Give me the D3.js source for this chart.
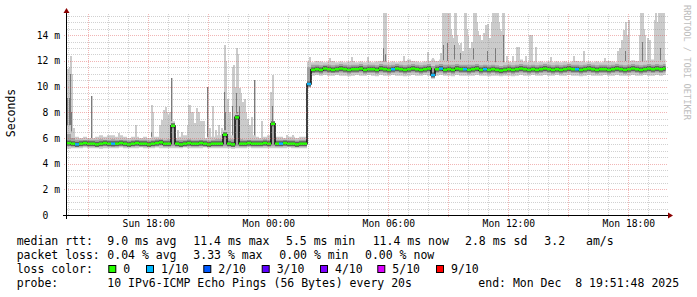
<!DOCTYPE html>
<html><head><meta charset="utf-8">
<script src="https://cdn.jsdelivr.net/npm/d3@7"></script>
<style>
html,body{margin:0;padding:0;background:#fff;}
svg{display:block;}
text{font-family:"DejaVu Sans Mono",monospace;fill:#000;}
</style></head><body>
<svg id="c" width="697" height="297"></svg>
<script>
// ---------------- DATA ----------------
const stepMinutes = 12;
const startTime = "2025-12-07 13:56";
const endTime = "2025-12-08 19:56";
const lastUpdate = "2025-12-08 19:51:48";
const yMax = 15.65;

// median rtt per 12-minute step (ms)
const median = [
5.6,5.55,5.5,5.55,5.6,5.55,5.55,5.5,5.55,5.6,
5.55,5.55,5.55,5.6,5.55,5.5,5.55,5.6,5.55,5.55,
5.5,5.55,5.6,5.65,5.55,5.55,6.95,5.55,5.5,5.55,
5.6,5.55,5.55,5.6,5.55,5.5,5.55,5.55,5.55,6.25,
5.55,5.5,7.6,5.55,5.55,5.6,5.55,5.55,5.55,5.6,
5.55,7.1,5.55,5.55,5.6,5.55,5.55,5.5,5.55,5.55,
10.2,11.3,11.35,11.3,11.4,11.35,11.3,11.35,11.4,11.35,
11.3,11.35,11.35,11.4,11.3,11.35,11.35,11.3,11.4,11.35,
11.3,11.35,11.4,11.35,11.3,11.35,11.4,11.35,11.3,11.35,
11.4,10.9,11.35,11.4,11.3,11.35,11.3,11.4,11.35,11.35,
11.3,11.35,11.4,11.3,11.35,11.3,11.35,11.3,11.25,11.3,
11.35,11.3,11.35,11.4,11.35,11.3,11.35,11.3,11.35,11.4,
11.35,11.3,11.35,11.3,11.35,11.4,11.35,11.35,11.3,11.35,
11.4,11.35,11.3,11.35,11.35,11.3,11.35,11.4,11.35,11.3,
11.35,11.4,11.35,11.3,11.35,11.4,11.35,11.4,11.35,11.4];

// lost pings (of 10) per step
const loss = [
0,0,1,0,0,0,0,0,0,0,
0,1,0,0,0,0,0,0,0,0,
0,0,0,0,0,0,0,0,0,0,
0,0,0,0,0,0,0,0,0,0,
0,0,0,0,0,0,0,0,0,0,
0,0,0,1,0,0,0,0,0,0,
1,0,0,0,0,0,0,0,0,0,
0,0,0,0,0,0,0,0,0,0,
0,1,0,0,0,0,0,0,0,0,
0,1,0,1,0,0,0,0,0,1,
0,0,0,0,1,0,0,0,0,0,
0,0,0,0,0,0,0,0,0,0,
0,0,0,0,0,0,0,1,0,0,
0,0,0,0,0,0,0,0,0,0,
0,0,0,0,0,0,0,0,0,0];

// smoke: outer top
const smokeHi = [
7.0,6.5,6.1,6.0,6.1,6.0,6.0,6.1,6.2,6.1,
6.2,6.2,6.1,6.2,6.1,6.0,6.1,6.1,6.0,6.1,
6.0,6.1,6.1,6.2,6.1,6.3,7.3,6.0,6.1,6.2,
6.1,6.2,6.1,6.1,6.0,6.1,6.1,6.2,6.2,6.6,
6.3,6.2,7.9,6.3,6.2,6.1,6.2,6.1,6.0,6.1,
6.2,7.3,6.1,6.1,6.0,6.1,6.1,6.0,6.1,6.1,
11.95,11.9,12.0,11.95,11.9,11.95,12.0,11.9,11.95,11.9,
11.95,12.0,11.9,11.95,11.9,11.95,11.9,11.95,12.0,11.95,
11.9,11.95,11.9,11.95,12.0,12.1,12.0,11.95,11.9,11.95,
12.0,12.1,12.0,12.1,12.05,12.0,12.1,12.0,12.1,12.0,
12.05,12.1,12.0,12.1,11.95,12.0,11.95,11.9,11.95,11.9,
11.95,11.9,12.0,12.1,11.95,11.9,11.95,11.9,11.95,11.9,
11.95,11.9,11.95,11.9,11.95,11.9,11.95,12.0,11.95,11.9,
11.95,11.9,11.95,11.9,11.95,12.0,11.95,11.9,11.95,12.0,
12.0,12.05,12.0,11.95,12.05,12.0,12.1,12.0,12.05,12.1];

// smoke: inner top
const smokeHi2 = [
6.3,6.0,5.85,5.85,5.8,5.85,5.85,5.85,5.9,5.85,
5.85,5.9,5.85,5.85,5.85,5.8,5.85,5.85,5.85,5.85,
5.8,5.85,5.9,5.9,5.85,5.9,7.0,5.85,5.85,5.85,
5.9,5.85,5.85,5.85,5.85,5.8,5.85,5.9,5.9,6.3,
5.9,5.9,7.7,5.9,5.85,5.85,5.85,5.85,5.85,5.9,
5.85,7.2,5.85,5.85,5.85,5.85,5.85,5.8,5.85,5.85,
11.5,11.7,11.7,11.65,11.7,11.7,11.65,11.7,11.75,11.7,
11.65,11.7,11.7,11.75,11.65,11.7,11.7,11.65,11.75,11.7,
11.65,11.7,11.75,11.7,11.65,11.7,11.75,11.7,11.65,11.7,
11.75,11.6,11.7,11.75,11.7,11.7,11.7,11.75,11.7,11.7,
11.7,11.7,11.75,11.65,11.7,11.65,11.7,11.65,11.6,11.65,
11.7,11.65,11.7,11.75,11.7,11.65,11.7,11.65,11.7,11.75,
11.7,11.65,11.7,11.65,11.7,11.75,11.7,11.7,11.65,11.7,
11.75,11.7,11.65,11.7,11.7,11.65,11.7,11.75,11.7,11.65,
11.7,11.75,11.7,11.65,11.7,11.75,11.7,11.75,11.7,11.75];

// smoke: inner bottom
const smokeLo2 = [
5.35,5.35,5.3,5.35,5.35,5.35,5.35,5.3,5.35,5.35,
5.35,5.3,5.35,5.35,5.35,5.3,5.35,5.35,5.35,5.35,
5.3,5.35,5.35,5.4,5.35,5.35,5.35,5.35,5.3,5.35,
5.35,5.35,5.35,5.35,5.35,5.3,5.35,5.35,5.35,5.35,
5.35,5.3,5.35,5.35,5.35,5.35,5.35,5.35,5.35,5.35,
5.35,5.35,5.35,5.35,5.35,5.35,5.35,5.3,5.35,5.35,
10.0,11.05,11.05,11.0,11.1,11.05,11.05,11.05,11.1,11.05,
11.0,11.05,11.05,11.1,11.0,11.05,11.05,11.0,11.1,11.05,
11.0,11.05,11.1,11.05,11.0,11.05,11.1,11.05,11.0,11.05,
11.1,10.75,11.05,11.1,11.0,11.05,11.0,11.1,11.05,11.05,
11.0,11.05,11.1,11.0,11.05,11.0,11.05,11.0,10.95,11.0,
11.05,11.0,11.05,11.1,11.05,11.0,11.05,11.0,11.05,11.1,
11.05,11.0,11.05,11.0,11.05,11.1,11.05,11.05,11.0,11.05,
11.1,11.05,11.0,11.05,11.05,11.0,11.05,11.1,11.05,11.0,
11.05,11.1,11.05,11.0,11.05,11.1,11.05,11.1,11.05,11.1];

// smoke: outer bottom
const smokeLo = [
5.15,5.2,5.2,5.2,5.25,5.2,5.2,5.2,5.15,5.2,
5.2,5.2,5.2,5.25,5.2,5.2,5.2,5.2,5.25,5.2,
5.2,5.2,5.25,5.2,5.2,5.2,5.2,5.2,5.2,5.25,
5.2,5.2,5.2,5.2,5.25,5.2,5.2,5.2,5.2,5.2,
5.2,5.15,5.2,5.2,5.2,5.25,5.2,5.2,5.2,5.2,
5.2,5.2,5.2,5.2,5.2,5.25,5.2,5.2,5.2,5.2,
9.9,10.85,10.9,10.85,10.9,10.85,10.85,10.9,10.85,10.85,
10.8,10.85,10.9,10.85,10.85,10.9,10.85,10.8,10.9,10.85,
10.85,10.9,10.85,10.85,10.8,10.85,10.9,10.85,10.85,10.9,
10.85,10.6,10.85,10.9,10.85,10.85,10.8,10.9,10.85,10.85,
10.85,10.85,10.9,10.85,10.85,10.8,10.85,10.85,10.8,10.85,
10.85,10.8,10.85,10.9,10.85,10.85,10.9,10.85,10.85,10.9,
10.85,10.85,10.9,10.85,10.85,10.9,10.85,10.85,10.8,10.85,
10.9,10.85,10.85,10.85,10.9,10.85,10.85,10.9,10.85,10.85,
10.85,10.9,10.85,10.85,10.9,10.85,10.85,10.9,10.85,10.9];

// individual outlier pings (max ping and upper-quartile ping)
const spikeTimes = [
"07 13:59","07 14:05","07 14:08","07 14:11","07 14:17","07 15:11","07 16:32","07 17:23","07 18:11","07 18:47",
"07 18:53","07 18:59","07 19:05","07 19:11","07 19:29","07 19:41","07 20:02","07 20:05","07 20:14","07 20:26",
"07 20:38","07 20:47","07 20:59","07 21:14","07 21:41","07 21:50","07 21:53","07 22:14","07 22:17","07 22:26",
"07 22:29","07 22:35","07 22:44","07 22:50","07 22:59","07 23:11","07 23:20","07 23:41","08 00:08","08 00:14",
"08 00:56","08 01:14",
"08 02:05","08 03:05","08 04:11","08 04:59","08 05:47","08 05:53","08 06:47","08 07:59","08 08:14","08 08:38",
"08 08:47","08 08:53","08 08:59","08 09:05","08 09:11","08 09:20","08 09:29","08 09:38","08 09:44","08 09:50",
"08 09:59","08 10:05","08 10:17","08 10:23","08 10:29","08 10:35","08 10:41","08 10:53","08 10:59","08 11:17",
"08 11:23","08 11:29","08 11:38","08 11:47","08 11:56","08 12:14","08 12:26","08 12:32","08 12:53","08 13:05",
"08 13:11","08 13:23","08 14:08","08 15:17","08 15:47","08 16:50","08 17:29","08 17:41","08 17:47","08 17:53",
"08 18:02","08 18:38","08 18:44","08 18:50","08 18:59","08 19:05","08 19:20","08 19:23","08 19:32","08 19:38",
"08 19:44","08 19:47",
"07 18:14","07 18:35","07 18:41","07 18:50","07 18:56","07 19:02","07 19:59","07 20:08","07 20:20","07 20:32",
"07 20:41","07 20:44","07 21:05","07 21:23","07 21:32","07 21:59","07 22:05","07 22:20","07 22:38","07 22:53",
"07 23:05",
"08 08:44","08 08:56","08 09:02","08 09:08","08 09:14","08 09:23","08 09:26","08 09:35","08 09:53","08 09:56",
"08 10:11","08 10:20","08 10:26","08 10:32","08 10:47","08 10:56","08 11:05","08 11:11","08 11:14","08 11:20",
"08 11:26","08 11:32","08 11:35","08 11:41","08 11:44",
"08 17:35","08 17:56","08 18:35","08 18:41","08 18:47","08 19:26","08 19:35","08 19:41"];
const spikeHi = [
11.4,11.5,12.4,11.0,6.8,9.3,6.4,7.0,8.6,8.2,
8.4,7.8,8.0,10.7,6.6,6.5,8.6,8.6,8.0,8.3,
7.3,7.3,10.0,8.5,6.8,13.2,12.0,11.5,11.7,13.0,
12.5,9.9,8.8,9.0,7.5,7.6,10.5,7.3,9.6,10.9,
6.2,6.2,
12.3,12.2,12.3,12.3,15.7,15.7,12.4,12.7,12.2,12.6,
15.7,15.7,15.7,15.7,14.0,15.7,13.4,13.4,12.8,15.7,
13.9,13.0,15.7,15.7,14.3,14.0,13.6,14.8,14.9,15.7,
15.7,15.7,14.3,15.7,12.4,12.4,13.1,13.1,12.4,14.0,
14.0,13.1,12.3,12.4,12.8,12.2,12.8,13.6,14.4,15.0,
15.2,15.7,15.7,14.0,13.8,13.6,15.2,15.7,15.7,15.7,
14.9,15.7,
8.0,7.0,7.4,8.0,8.0,7.6,7.0,8.0,7.2,8.0,
7.0,7.3,6.8,6.6,7.0,9.0,8.0,10.0,9.5,8.0,
7.0,
15.7,15.7,15.2,14.5,13.8,15.7,14.0,13.2,15.7,14.5,
13.5,15.7,15.0,14.0,14.2,14.8,13.8,15.0,15.7,15.7,
15.7,15.0,14.5,14.3,15.7,
13.0,14.0,14.0,15.7,14.5,15.0,15.7,15.7];
const spikeMid = [
9.1,9.1,11.0,8.0,6.3,9.3,0,0,6.5,0,
0,0,0,10.7,0,0,0,0,0,0,
0,0,10.0,0,0,9.6,8.0,8.5,0,9.5,
8.0,8.5,0,0,0,0,10.5,0,0,8.5,
0,0,
0,0,0,0,13.0,12.5,0,0,12.0,0,
13.2,0,13.4,0,0,13.2,0,12.6,0,0,
0,0,13.0,0,0,0,0,0,12.8,0,
13.0,0,0,14.0,0,0,0,0,0,0,
0,0,0,0,0,0,0,0,0,12.8,
0,0,13.5,0,0,0,0,0,0,13.0,
0,0,
0,0,0,0,0,0,0,0,0,0,
0,0,0,0,0,0,0,0,0,0,
0,
0,0,0,0,0,0,0,0,0,0,
0,0,0,0,0,0,0,0,0,0,
0,0,0,0,0,
0,0,0,0,0,0,0,0];

// axes
const yTicks = [0,2,4,6,8,10,12,14];
const yTickLabels = ["0\u00a0\u00a0","2 m","4 m","6 m","8 m","10 m","12 m","14 m"];
const xTickTimes = ["2025-12-07 18:00","2025-12-08 00:00","2025-12-08 06:00","2025-12-08 12:00","2025-12-08 18:00"];
const xTickLabels = ["Sun 18:00","Mon 00:00","Mon 06:00","Mon 12:00","Mon 18:00"];
const yTitle = "Seconds";
const watermark = "RRDTOOL / TOBI OETIKER";

// legend
const lossThresholds = [0,1,2,3,4,5,9];
const lossLabels = ["0","1/10","2/10","3/10","4/10","5/10","9/10"];
const lossColors = ["#26ff00","#00b8ff","#0059ff","#5e00ff","#7e00ff","#dd00ff","#ff0000"];
const legendRtt = ["median rtt:","9.0 ms avg","11.4 ms max","5.5 ms min","11.4 ms now","2.8 ms sd","3.2","am/s"];
const legendLoss = ["packet loss:","0.04 % avg","3.33 % max","0.00 % min","0.00 % now"];
const legendProbe = ["probe:","10 IPv6-ICMP Echo Pings (56 Bytes) every 20s","end: Mon Dec  8 19:51:48 2025"];

// ---------------- DRAW ----------------
const svg = d3.select("#c");
const parse = d3.timeParse("%Y-%m-%d %H:%M");
const parseS = d3.timeParse("%Y-%m-%d %H:%M:%S");
const t0 = parse(startTime), t1 = parse(endTime), tLast = parseS(lastUpdate);
const L = 67, R = 667, B = 215, T = 14;
const x = d3.scaleTime().domain([t0, t1]).range([L, R]);
const y = d3.scaleLinear().domain([0, yMax]).range([B, T]);

svg.append("defs").append("clipPath").attr("id","plot")
  .append("rect").attr("x",L).attr("y",T-1).attr("width",R-L+1).attr("height",B-T+1);

const steps = median.map((m,i)=>({
  t: d3.timeMinute.offset(t0, i*stepMinutes),
  m, loss: loss[i], hi: smokeHi[i], hi2: smokeHi2[i], lo2: smokeLo2[i], lo: smokeLo[i]
}));
steps.forEach((s,i)=>{ const n = d3.timeMinute.offset(t0,(i+1)*stepMinutes); s.tn = n > tLast ? tLast : n; });
const pts = steps.concat([Object.assign({}, steps[steps.length-1], {t: tLast})]);

const plot = svg.append("g").attr("clip-path","url(#plot)");

// spikes (behind smoke band)
const stepIndexOf = t => Math.min(steps.length-1, Math.max(0, Math.floor((t - t0)/60000/stepMinutes)));
const spikes = spikeTimes.map((s,i)=>{ const t = parse("2025-12-"+s); return {t, hi: spikeHi[i], mid: spikeMid[i], base: steps[stepIndexOf(t)].lo2}; });
plot.append("g").selectAll("rect").data(spikes).join("rect")
  .attr("x", d=>Math.round(x(d.t))-1).attr("width",2)
  .attr("y", d=>y(Math.min(d.hi,yMax+0.2))).attr("height", d=>y(d.base)-y(Math.min(d.hi,yMax+0.2)))
  .attr("fill","#cbcbcb").attr("shape-rendering","crispEdges");
plot.append("g").selectAll("rect").data(spikes.filter(d=>d.mid>0)).join("rect")
  .attr("x", d=>Math.round(x(d.t))-1).attr("width",1)
  .attr("y", d=>y(d.mid)).attr("height", d=>y(d.base)-y(d.mid))
  .attr("fill","#7a7a7a").attr("shape-rendering","crispEdges");

// smoke bands
const area = (a,b)=>d3.area().curve(d3.curveStepAfter).x(d=>x(d.t)).y0(d=>y(d[a])).y1(d=>y(d[b]));
plot.append("path").datum(pts).attr("d", area("lo","hi")).attr("fill","#cbcbcb");
plot.append("path").datum(pts).attr("d", area("lo2","hi2")).attr("fill","#a2a2a2");
// dark core of the smoke around the median (horizontal parts only)
plot.append("g").selectAll("line").data(steps).join("line")
  .attr("x1", d=>x(d.t)).attr("x2", d=>x(d.tn))
  .attr("y1", d=>y(d.m)).attr("y2", d=>y(d.m))
  .attr("stroke","#5e5e5e").attr("stroke-width",5);
const stepLine = d3.line().curve(d3.curveStepAfter).x(d=>x(d.t)).y(d=>y(d.m));
plot.append("path").datum(pts).attr("d", stepLine).attr("fill","none").attr("stroke","#111").attr("stroke-width",1.6);

// median coloured by loss
const lossColor = l => { let c = lossColors[0]; lossThresholds.forEach((th,k)=>{ if (l>=th) c = lossColors[k]; }); return c; };
plot.append("g").selectAll("line").data(steps).join("line")
  .attr("x1", d=>x(d.t)).attr("x2", d=>x(d.tn))
  .attr("y1", d=>y(d.m)).attr("y2", d=>y(d.m))
  .attr("stroke", d=>lossColor(d.loss)).attr("stroke-width",2.5);

// grid (drawn on top, like rrdtool)
const grid = svg.append("g").attr("shape-rendering","crispEdges").attr("stroke-dasharray","1,1");
const hMinor = d3.range(1, Math.floor(yMax*2)+1).map(k=>k/2).filter(v=>v%2!==0);
const hMajor = yTicks.filter(v=>v>0);
const vMinor = x.ticks(d3.timeHour.every(1)).filter(t=>t.getHours()%3!==0);
const vMajor = x.ticks(d3.timeHour.every(3));
const cr = v=>Math.round(v)+0.5;
const minorCol = "rgba(140,140,140,0.4)", majorCol = "rgba(222,79,79,0.42)";
grid.selectAll(".hm").data(hMinor).join("line").attr("x1",L).attr("x2",R+1).attr("y1",d=>cr(y(d))).attr("y2",d=>cr(y(d))).attr("stroke",minorCol);
grid.selectAll(".vm").data(vMinor).join("line").attr("y1",T).attr("y2",B).attr("x1",d=>cr(x(d))).attr("x2",d=>cr(x(d))).attr("stroke",minorCol);
grid.selectAll(".hM").data(hMajor).join("line").attr("x1",L-3).attr("x2",R+1).attr("y1",d=>cr(y(d))).attr("y2",d=>cr(y(d))).attr("stroke",majorCol);
grid.selectAll(".vM").data(vMajor).join("line").attr("y1",T).attr("y2",B+3).attr("x1",d=>cr(x(d))).attr("x2",d=>cr(x(d))).attr("stroke",majorCol);

// axis lines + arrows
svg.append("line").attr("x1",63).attr("x2",669).attr("y1",B+0.5).attr("y2",B+0.5).attr("stroke","#000").attr("shape-rendering","crispEdges");
svg.append("line").attr("x1",L-0.5).attr("x2",L-0.5).attr("y1",B+4).attr("y2",10).attr("stroke","#000").attr("shape-rendering","crispEdges");
svg.append("path").attr("d",`M668,${B-2.5}L673,${B+0.5}L668,${B+3.5}Z`).attr("fill","#8b0000");
svg.append("path").attr("d",`M${L-3.5},13L${L-0.5},8L${L+2.5},13Z`).attr("fill","#8b0000");

// axis labels
const xa = svg.append("g").attr("transform",`translate(0,${B})`)
  .call(d3.axisBottom(x).tickValues(xTickTimes.map(parse)).tickFormat((d,i)=>xTickLabels[i]).tickSize(0).tickPadding(5.5));
xa.select(".domain").remove();
xa.selectAll("text").attr("font-family","DejaVu Sans Mono").attr("font-size","9.7px").attr("fill","#000");
const ya = svg.append("g").attr("transform",`translate(${L},0)`)
  .call(d3.axisLeft(y).tickValues(yTicks).tickFormat((d,i)=>yTickLabels[i]).tickSize(0).tickPadding(7));
ya.select(".domain").remove();
ya.selectAll("text").attr("font-family","DejaVu Sans Mono").attr("font-size","9.7px").attr("fill","#000");

svg.append("text").attr("transform","translate(14.5,113) rotate(-90)").attr("text-anchor","middle")
  .attr("font-size","11.5px").text(yTitle);
svg.append("text").attr("transform","translate(684,5) rotate(90)").attr("font-size","8.7px")
  .style("fill","#bdbdbd").text(watermark);

// legend
const lg = svg.append("g").attr("font-size","11.5px");
const put = (xx,yy,s)=>lg.append("text").attr("x",xx).attr("y",yy).attr("xml:space","preserve").style("white-space","pre").text(s);
const row1x = [16.7,107.3,193.3,286,372.7,465,544.3,586];
legendRtt.forEach((s,i)=>put(row1x[i],244.7,s));
const row2x = [16.7,107.3,193.3,279.3,365];
legendLoss.forEach((s,i)=>put(row2x[i],258.6,s));
put(16.7,272.6,"loss color:");
const boxX = [108.3,146,203.3,261.7,320,377.3,436];
lossLabels.forEach((s,i)=>{
  lg.append("rect").attr("x",boxX[i]+0.5).attr("y",265.5).attr("width",7).attr("height",7)
    .attr("fill",lossColors[i]).attr("stroke","#000").attr("stroke-width",1);
  put(boxX[i]+15,272.6,s);
});
const row4x = [16.7,107.3,478.3];
legendProbe.forEach((s,i)=>put(row4x[i],286.6,s));
</script>
</body></html>
